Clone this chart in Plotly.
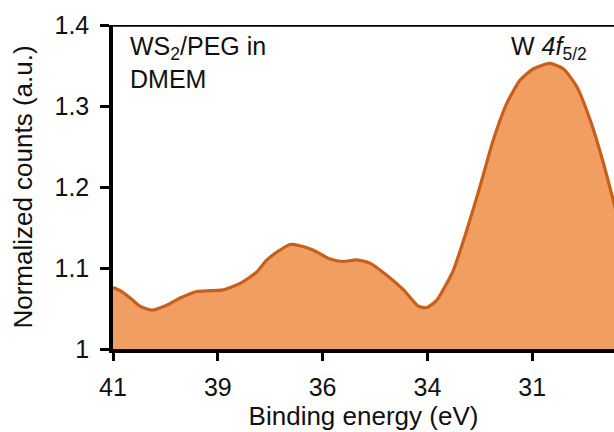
import plotly.graph_objects as go

energy = [41.0, 40.83, 40.59, 40.36, 40.08, 39.72, 39.40, 39.0, 38.69, 38.37, 37.97, 37.57,
          37.33, 37.02, 36.78, 36.54, 36.22, 35.82, 35.51, 35.19, 34.87, 34.47, 34.07,
          33.72, 33.52, 33.28, 33.04, 32.88, 32.56, 32.25, 31.93, 31.61, 31.29, 30.97,
          30.58, 30.26, 29.94, 29.62, 29.30, 29.05, 28.9]
counts = [1.076, 1.072, 1.063, 1.053, 1.048, 1.054, 1.063, 1.071, 1.072, 1.073, 1.081, 1.095,
          1.110, 1.122, 1.129, 1.1275, 1.122, 1.111, 1.108, 1.110, 1.106, 1.091, 1.073,
          1.053, 1.051, 1.060, 1.081, 1.0975, 1.147, 1.200, 1.258, 1.303, 1.332, 1.346,
          1.3526, 1.346, 1.324, 1.283, 1.229, 1.180, 1.15]

tick_vals = [41, 38.5, 36, 33.5, 31]
tick_text = ["41", "39", "36", "34", "31"]
y_ticks = [1.0, 1.1, 1.2, 1.3, 1.4]
y_text = ["1", "1.1", "1.2", "1.3", "1.4"]

font = "Liberation Sans, Arial, sans-serif"

fig = go.Figure()
fig.add_trace(go.Scatter(
    x=energy, y=counts, mode="lines", line=dict(color="#C8601A", width=3.2, shape="spline", smoothing=0.6),
    fill="tozeroy", fillcolor="#F09E62", hoverinfo="skip", showlegend=False,
))

fig.update_layout(
    width=614, height=432,
    margin=dict(l=113, r=0, t=25, b=83),
    paper_bgcolor="white", plot_bgcolor="white",
    font=dict(family=font, size=25, color="#111111"),
    xaxis=dict(
        range=[41, 29.05], tickvals=tick_vals, ticktext=tick_text,
        showgrid=False, zeroline=False, showline=True, linecolor="black", linewidth=3.5,
        ticks="outside", ticklen=8, tickwidth=3, tickcolor="black",
        tickfont=dict(size=25), ticklabelstandoff=5,
        title=dict(text="Binding energy (eV)", font=dict(size=26), standoff=7),
    ),
    yaxis=dict(
        range=[1.0, 1.4], tickvals=y_ticks, ticktext=y_text,
        showgrid=False, zeroline=False, showline=True, linecolor="black", linewidth=3.5,
        ticks="outside", ticklen=9, tickwidth=3, tickcolor="black",
        tickfont=dict(size=25), ticklabelstandoff=6,
        title=dict(text="Normalized counts (a.u.)", font=dict(size=26), standoff=15),
    ),
    shapes=[dict(type="line", xref="paper", yref="y", x0=-0.018, x1=1.0, y0=1.4, y1=1.4,
                 line=dict(color="black", width=3.5))],
    annotations=[
        dict(text="WS<sub>2</sub>/PEG in<br>DMEM", xref="paper", yref="paper", x=0.03, y=0.985,
             xanchor="left", yanchor="top", showarrow=False, align="left",
             font=dict(size=25, family=font, color="#111111")),
        dict(text="W <i>4f</i><sub>5/2</sub>", xref="paper", yref="paper", x=0.79, y=0.985,
             xanchor="left", yanchor="top", showarrow=False, align="left",
             font=dict(size=25, family=font, color="#111111")),
    ],
)

fig.write_html("out.html")
